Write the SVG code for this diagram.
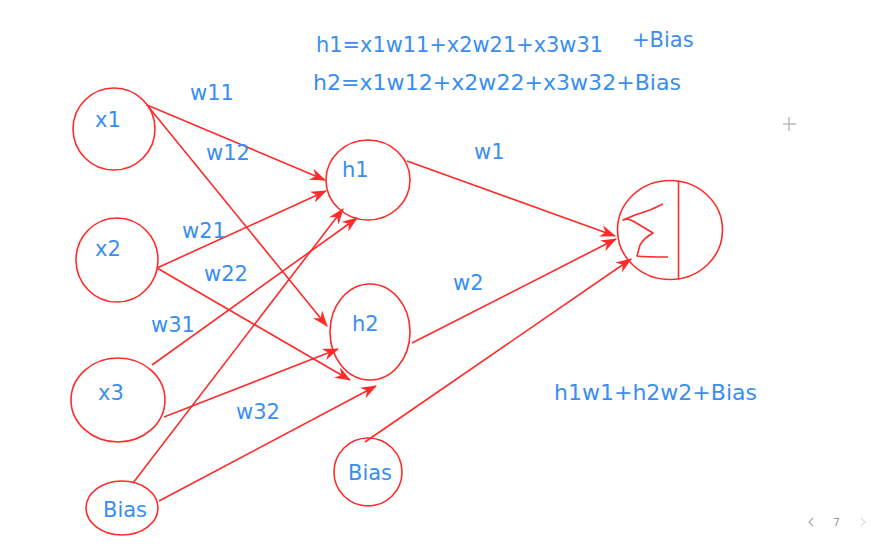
<svg xmlns="http://www.w3.org/2000/svg" width="871" height="546" viewBox="0 0 871 546">
<defs>
<style>
.n{fill:none;stroke:#ff2a2a;stroke-width:1.6}
.c{fill:none;stroke:#ff2a2a;stroke-width:1.6}
text{font-family:"DejaVu Sans",Verdana,sans-serif;fill:#3a8ef0}
.t{font-size:21px}
.f1{font-size:21px}
.f2{font-size:22px}
.nav{font-size:11px;fill:#999}
</style>
<marker id="a" viewBox="0 0 16 12" refX="15" refY="6" markerWidth="16" markerHeight="12" markerUnits="userSpaceOnUse" orient="auto">
<path d="M0,0 L16,6 L0,12 L5,6 Z" fill="#ff2a2a"/>
</marker>
</defs>
<rect width="871" height="546" fill="#fff"/>
<g id="connectors">
<line class="c" x1="147" y1="105" x2="325" y2="180" marker-end="url(#a)"/>
<line class="c" x1="147" y1="105" x2="327" y2="326" marker-end="url(#a)"/>
<line class="c" x1="157" y1="268" x2="326" y2="191" marker-end="url(#a)"/>
<line class="c" x1="157" y1="268" x2="350" y2="380" marker-end="url(#a)"/>
<line class="c" x1="152" y1="365" x2="357" y2="218" marker-end="url(#a)"/>
<line class="c" x1="164" y1="417" x2="338" y2="349" marker-end="url(#a)"/>
<line class="c" x1="133" y1="483" x2="343" y2="209" marker-end="url(#a)"/>
<line class="c" x1="159" y1="501" x2="376" y2="386" marker-end="url(#a)"/>
<line class="c" x1="407" y1="161" x2="615" y2="236" marker-end="url(#a)"/>
<line class="c" x1="412" y1="343" x2="616" y2="239" marker-end="url(#a)"/>
<line class="c" x1="365" y1="442" x2="631" y2="259" marker-end="url(#a)"/>
</g>
<g id="x1"><ellipse class="n" cx="114" cy="129" rx="41" ry="41"/><text class="t" x="95" y="127">x1</text></g>
<g id="x2"><ellipse class="n" cx="117" cy="260" rx="41" ry="42"/><text class="t" x="95" y="256">x2</text></g>
<g id="x3"><ellipse class="n" cx="118" cy="400" rx="47" ry="42"/><text class="t" x="98" y="400">x3</text></g>
<g id="bias1"><ellipse class="n" cx="122" cy="508" rx="36" ry="27"/><text class="t" x="103" y="517">Bias</text></g>
<g id="h1"><ellipse class="n" cx="368" cy="180" rx="42" ry="40"/><text class="t" x="342" y="177">h1</text></g>
<g id="h2"><ellipse class="n" cx="370" cy="332" rx="40" ry="48"/><text class="t" x="352" y="331">h2</text></g>
<g id="bias2"><ellipse class="n" cx="368" cy="472" rx="34" ry="34"/><text class="t" x="348" y="480">Bias</text></g>
<g id="sum">
<ellipse class="n" cx="670" cy="230" rx="52.5" ry="49.5"/>
<line class="n" x1="678.5" y1="180.5" x2="678.5" y2="279.5"/>
<path class="n" stroke-linejoin="round" d="M663,204 L650,210 L635,215 L623,220 Q628,218 633,221 L653,233 Q644,238 640,245 L637,256 Q645,257 668,257"/>
</g>
<g id="labels">
<text class="t" x="190" y="100">w11</text>
<text class="t" x="206" y="160">w12</text>
<text class="t" x="182" y="238">w21</text>
<text class="t" x="204" y="281">w22</text>
<text class="t" x="151" y="332">w31</text>
<text class="t" x="236" y="419">w32</text>
<text class="t" x="474" y="159">w1</text>
<text class="t" x="453" y="290">w2</text>
<text class="f1" x="316" y="52" textLength="287" lengthAdjust="spacingAndGlyphs">h1=x1w11+x2w21+x3w31</text>
<text class="f1" x="632" y="47">+Bias</text>
<text class="f2" x="313" y="90" textLength="368" lengthAdjust="spacingAndGlyphs">h2=x1w12+x2w22+x3w32+Bias</text>
<text class="f2" x="554" y="400" textLength="203" lengthAdjust="spacingAndGlyphs">h1w1+h2w2+Bias</text>
</g>
<g id="ui" stroke="#aaa" stroke-width="1.2" fill="none">
<line x1="783" y1="124" x2="796" y2="124"/>
<line x1="789" y1="117" x2="789" y2="131"/>
<path d="M813,518 L809,522 L813,526"/>
<path d="M861,518 L865,522 L861,526" stroke="#ddd"/>
</g>
<text class="nav" x="833" y="526">7</text>
</svg>
